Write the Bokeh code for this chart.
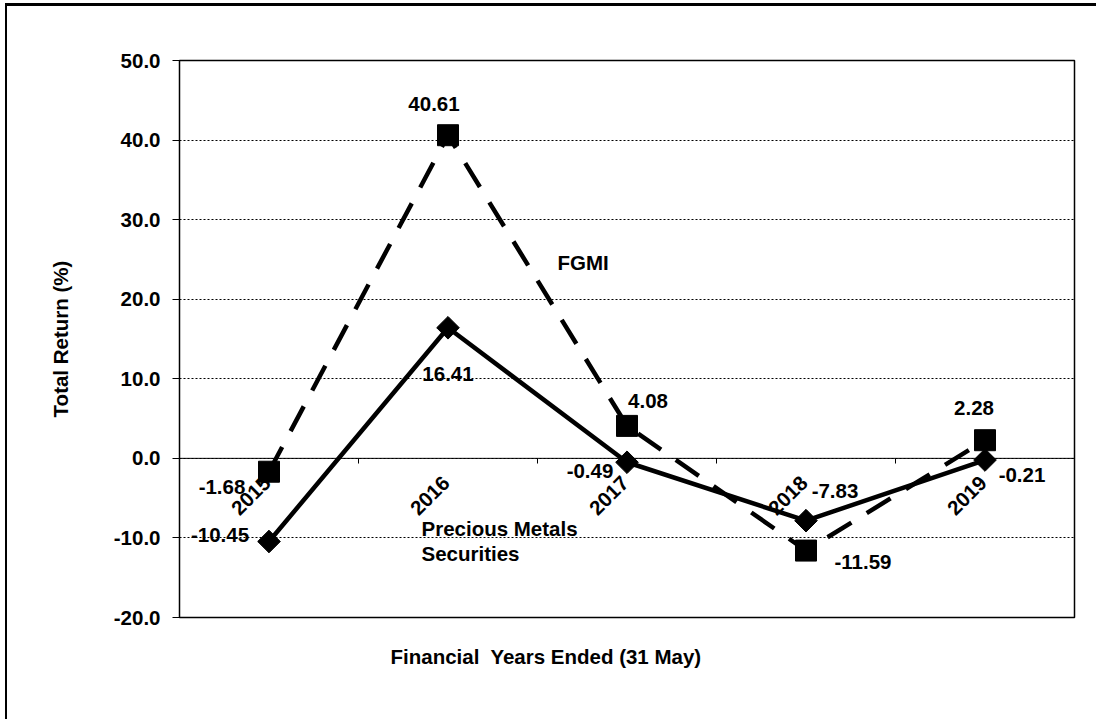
import math
from bokeh.plotting import figure
from bokeh.layouts import column, row
from bokeh.models import (ColumnDataSource, Range1d, Span, Label, PrintfTickFormatter, FixedTicker,
                          Title, Div)
from bokeh.embed import file_html
from bokeh.resources import INLINE
from bokeh.core.properties import value

# ---- data ----
years = ["2015", "2016", "2017", "2018", "2019"]
fgmi = [-1.68, 40.61, 4.08, -11.59, 2.28]
precious = [-10.45, 16.41, -0.49, -7.83, -0.21]
y_ticks = [-20, -10, 0, 10, 20, 30, 40, 50]

FONT = "Liberation Sans"
FS = "20.5px"

xs = [i + 0.5 for i in range(len(years))]
bounds = [i for i in range(1, len(years))]

p = figure(width=1089, height=713, x_range=Range1d(0, len(years)), y_range=Range1d(-20, 50),
           output_backend="svg", toolbar_location=None, margin=0,
           min_border_left=172, min_border_right=22, min_border_top=54, min_border_bottom=102)
p.outline_line_color = "black"
p.outline_line_width = 1.5
p.background_fill_color = "white"
p.border_fill_color = "white"

p.xaxis.visible = False
p.xgrid.visible = False
p.ygrid.ticker = FixedTicker(ticks=y_ticks)
p.ygrid.grid_line_color = "black"
p.ygrid.grid_line_dash = "2 2"
p.ygrid.grid_line_width = 1

ax = p.yaxis[0]
ax.ticker = FixedTicker(ticks=y_ticks)
ax.formatter = PrintfTickFormatter(format="%.1f")
ax.major_label_text_font = FONT
ax.major_label_text_font_style = "bold"
ax.major_label_text_font_size = FS
ax.major_label_text_color = "black"
ax.major_tick_out = 7
ax.major_tick_in = 0
ax.minor_tick_out = 0
ax.minor_tick_in = 0
ax.axis_line_color = "black"
ax.major_tick_line_color = "black"
ax.major_label_standoff = 12
ax.axis_label = "Total Return (%)"
ax.axis_label_text_font = FONT
ax.axis_label_text_font_style = "bold"
ax.axis_label_text_font_size = FS
ax.axis_label_text_color = "black"
ax.axis_label_standoff = 39

p.add_layout(Span(location=0, dimension="width", line_color="black", line_width=1))
p.segment(x0=bounds, y0=[0] * len(bounds), x1=bounds, y1=[-0.65] * len(bounds),
          line_color="black", line_width=1)

src = ColumnDataSource(dict(x=xs, fgmi=fgmi, pm=precious, years=years, zero=[0] * len(years),
                            fl=[f"{v:.2f}" for v in fgmi], pl=[f"{v:.2f}" for v in precious],
                            fdx=[-47, -14, 21, 57, -11], fdy=[15, -31, -25, 11, -32],
                            pdx=[-49, 0, -37, 29, 37], pdy=[-7, 46, 9, -30, 15]))

p.line("x", "fgmi", source=src, line_color="black", line_width=4.5, line_dash="28 18")
p.line("x", "pm", source=src, line_color="black", line_width=4.5)
p.scatter("x", "fgmi", source=src, marker="square", size=21, color="black")
p.scatter("x", "pm", source=src, marker="square", angle=math.pi / 4, size=16, color="black")

common = dict(text_font=value(FONT), text_font_style="bold", text_font_size=FS, text_color="black")
p.text("x", "fgmi", text="fl", source=src, x_offset="fdx", y_offset="fdy",
       text_align="center", text_baseline="middle", **common)
p.text("x", "pm", text="pl", source=src, x_offset="pdx", y_offset="pdy",
       text_align="center", text_baseline="middle", **common)
p.text("x", "zero", text="years", source=src, angle=math.pi / 4,
       x_offset=-2, y_offset=21, text_align="right", text_baseline="middle", **common)

lab = dict(text_font=FONT, text_font_style="bold", text_font_size=FS, text_color="black")
p.add_layout(Label(x=2.112, y=24.6, text="FGMI", text_align="left", text_baseline="middle", **lab))
p.add_layout(Label(x=1.352, y=-8.82, text="Precious Metals", text_align="left", text_baseline="middle", **lab))
p.add_layout(Label(x=1.352, y=-11.96, text="Securities", text_align="left", text_baseline="middle", **lab))

xtitle = Title(text="Financial\u00a0 Years Ended (31 May)", align="left", offset=211, standoff=50,
               text_font=FONT, text_font_style="bold", text_font_size=FS, text_color="black")
p.add_layout(xtitle, "below")

# outer page border (top and left) as plain blocks
top_rule = Div(text="", width=1091, height=3, margin=(3, 0, 0, 5),
               styles={"background-color": "black"})
left_rule = Div(text="", width=2, height=713, margin=0, styles={"background-color": "black"})
page = column(top_rule, row(left_rule, p, spacing=0, margin=(0, 0, 0, 5)), spacing=0, margin=0)

open("out.html", "w").write(file_html(page, INLINE))
